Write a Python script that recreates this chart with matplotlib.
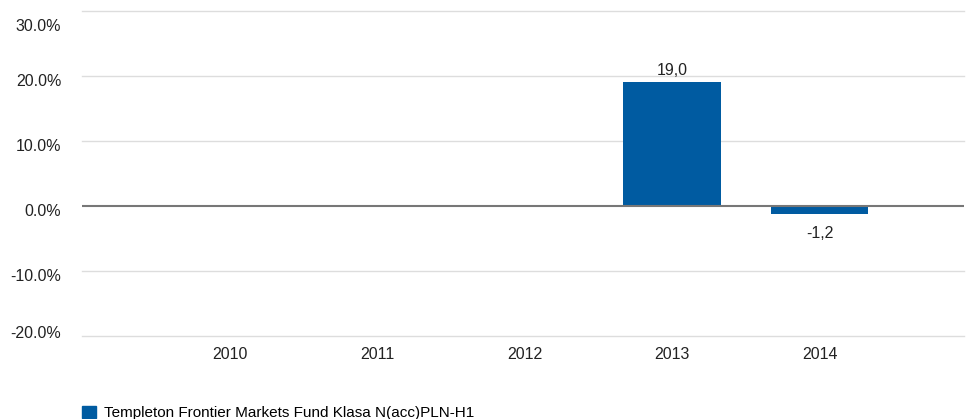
import matplotlib

matplotlib.use("Agg")
import matplotlib.pyplot as plt
import matplotlib.transforms as mtransforms
from matplotlib.patches import Patch

years = ["2010", "2011", "2012", "2013", "2014"]
returns = [None, None, None, 19.0, -1.2]
series_name = "Templeton Frontier Markets Fund Klasa N(acc)PLN-H1"
y_ticks = [-20, -10, 0, 10, 20, 30]

BLUE = "#005ba1"

plt.rcParams["font.family"] = ["Liberation Sans", "DejaVu Sans"]

fig = plt.figure(figsize=(9.66, 4.19), dpi=100)
ax = fig.add_axes([0.085, 0.198, 0.913, 0.776])

xs = [i for i, v in enumerate(returns) if v is not None]
vals = [v for v in returns if v is not None]
ax.bar(xs, vals, width=0.66, color=BLUE, zorder=3)

for x, v in zip(xs, vals):
    label = f"{v:.1f}".replace(".", ",")
    if v >= 0:
        ax.annotate(label, (x, v), xytext=(0, 3), textcoords="offset points",
                    ha="center", va="bottom", fontsize=11.5, color="#222222")
    else:
        ax.annotate(label, (x, v), xytext=(0, -9), textcoords="offset points",
                    ha="center", va="top", fontsize=11.5, color="#222222")

ax.set_xlim(-1, 4.98)
ax.set_ylim(-20, 30)
ax.set_xticks(range(len(years)))
ax.set_xticklabels(years)
ax.set_yticks(y_ticks)
ax.set_yticklabels([f"{t:.1f}%" for t in y_ticks])

for t in y_ticks:
    if t == 0:
        ax.axhline(0, color="#777777", lw=1.5, zorder=4)
    else:
        ax.axhline(t, color="#dddddd", lw=1.0, zorder=1, clip_on=False)

for s in ax.spines.values():
    s.set_visible(False)
ax.tick_params(axis="both", length=0, labelsize=11.5, colors="#222222")
ax.tick_params(axis="x", pad=8)
ax.tick_params(axis="y", pad=15)

# y labels sit a little below their gridlines; the outer ones are pulled inward
n = len(y_ticks)
for i, lab in enumerate(ax.get_yticklabels()):
    if i == 0:
        dy = 4
    elif i == n - 1:
        dy = -14
    else:
        dy = -4
    lab.set_transform(lab.get_transform()
                      + mtransforms.ScaledTranslation(0, dy / 100, fig.dpi_scale_trans))

fig.legend(handles=[Patch(color=BLUE, label=series_name)],
           loc="lower left", bbox_to_anchor=(0.071, -0.036), frameon=False,
           fontsize=11, handlelength=0.9, handleheight=0.9, handletextpad=0.55)

fig.savefig("out.png", dpi=100)
